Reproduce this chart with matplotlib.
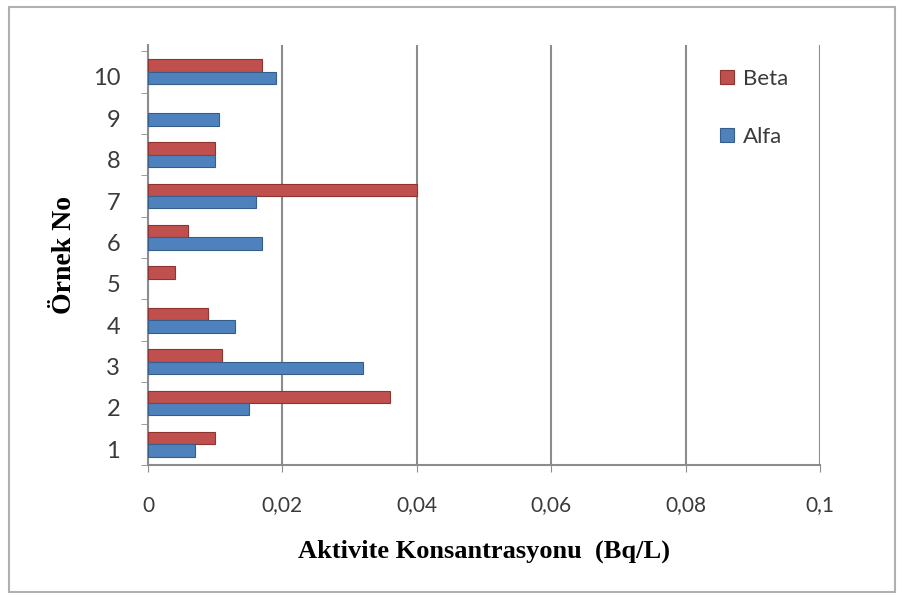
import matplotlib
matplotlib.use("Agg")
import matplotlib.pyplot as plt
import matplotlib.transforms as mtransforms
from matplotlib.patches import Rectangle
import numpy as np

# Sample numbers and measured activity concentrations (Bq/L)
samples = ["1", "2", "3", "4", "5", "6", "7", "8", "9", "10"]
beta = [0.010, 0.036, 0.011, 0.009, 0.004, 0.006, 0.040, 0.010, 0.0, 0.017]
alfa = [0.007, 0.015, 0.032, 0.013, 0.0, 0.017, 0.016, 0.010, 0.0105, 0.019]
x_ticks = [0, 0.02, 0.04, 0.06, 0.08, 0.1]
x_tick_labels = ["0", "0,02", "0,04", "0,06", "0,08", "0,1"]

beta_color = "#C0504D"
alfa_color = "#4F81BD"
grid_color = "#8C8C8C"
text_color = "#3A3A3A"

fig = plt.figure(figsize=(9.06, 5.97), dpi=100)
fig.patch.set_facecolor("white")

# Outer chart border
fig.patches.append(Rectangle((9 / 906, 1 - 592 / 597), (895 - 9) / 906, (592 - 7) / 597,
                             transform=fig.transFigure, fill=False,
                             edgecolor="#B0B0B0", linewidth=1.5))

ax = fig.add_axes([148 / 906, 1 - 465 / 597, (820 - 148) / 906, (465 - 45) / 597])

pos = np.arange(1, len(samples) + 1)
h = 0.3


def draw_series(values, offset, color, edge, label):
    # empty measurements get no bar at all
    vals = np.asarray(values, dtype=float)
    keep = vals > 0
    return ax.barh(pos[keep] + offset, vals[keep], height=h, color=color,
                   edgecolor=edge, linewidth=0.8, label=label, zorder=3)


draw_series(beta, h / 2, beta_color, "#8E3532", "Beta")
draw_series(alfa, -h / 2, alfa_color, "#365E8C", "Alfa")

ax.set_xlim(0, 0.1)
ax.set_ylim(0.5, 10.65)

ax.set_xticks(x_ticks)
ax.set_xticklabels(x_tick_labels, fontsize=15, family="Lato", color=text_color)
ax.set_yticks(pos)
ax.set_yticklabels(samples, fontsize=17, family="Lato", color=text_color)
ax.set_yticks(np.arange(0.5, 11, 1.0), minor=True)

ax.tick_params(axis="y", which="major", length=0, pad=20)
ax.tick_params(axis="y", which="minor", length=5, color=grid_color, direction="out")
ax.tick_params(axis="x", which="major", length=5, color=grid_color, pad=17)

# Nudge the category labels slightly downward
offset = mtransforms.ScaledTranslation(0, -5 / 100, fig.dpi_scale_trans)
for lbl in ax.get_yticklabels():
    lbl.set_transform(lbl.get_transform() + offset)

ax.xaxis.grid(True, color=grid_color, linewidth=1.5, zorder=0)
ax.set_axisbelow(True)
for side in ("top", "right"):
    ax.spines[side].set_visible(False)
for side in ("left", "bottom"):
    ax.spines[side].set_color(grid_color)
    ax.spines[side].set_linewidth(1.5)

ax.set_xlabel("Aktivite Konsantrasyonu  (Bq/L)", fontsize=19, fontweight="bold",
              family="Liberation Serif", labelpad=17)
ax.set_ylabel("Örnek No", fontsize=20, fontweight="bold",
              family="Liberation Serif", labelpad=11)

leg = ax.legend(loc="upper left", bbox_to_anchor=(0.822, 0.99), frameon=False,
                handlelength=0.6, handleheight=0.6, handletextpad=0.4,
                labelspacing=1.7, prop={"family": "Lato", "size": 16})
for t in leg.get_texts():
    t.set_color(text_color)

fig.savefig("out.png", dpi=100)
